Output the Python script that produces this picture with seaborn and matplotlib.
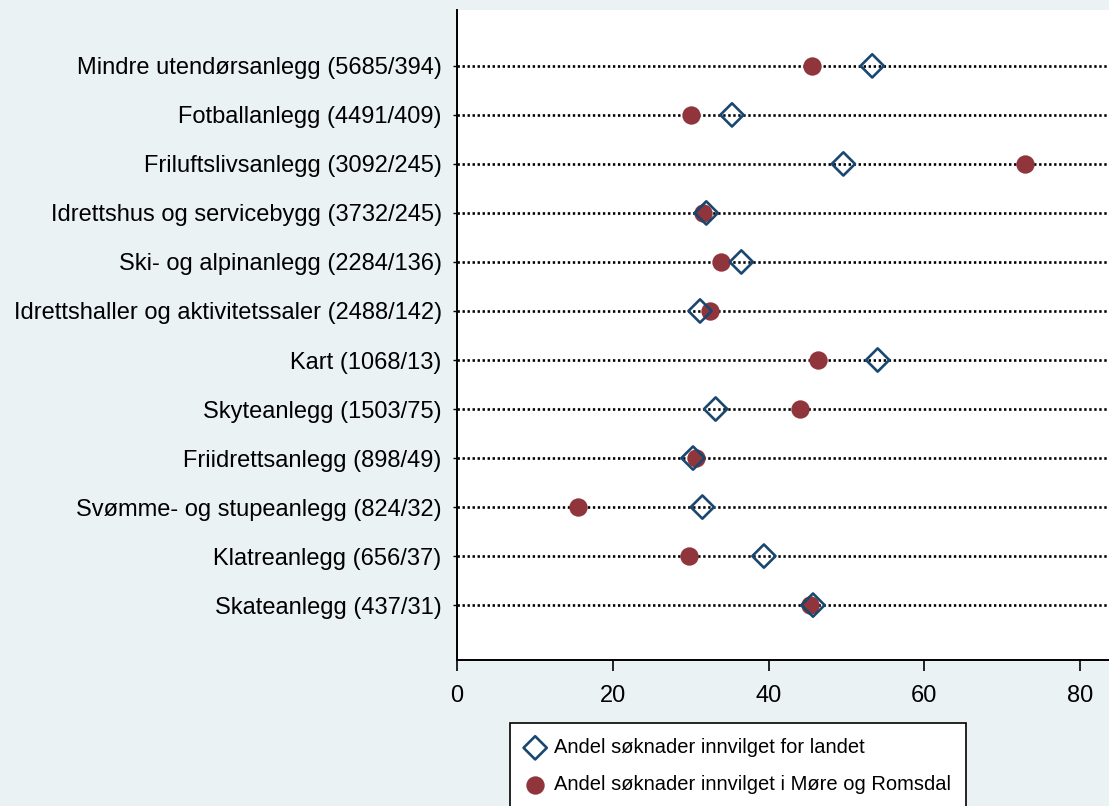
import matplotlib
matplotlib.use("Agg")
import matplotlib.pyplot as plt
import seaborn as sns
import pandas as pd

# Kategorier (antall søknader landet / Møre og Romsdal)
categories = [
    "Mindre utendørsanlegg (5685/394)",
    "Fotballanlegg (4491/409)",
    "Friluftslivsanlegg (3092/245)",
    "Idrettshus og servicebygg (3732/245)",
    "Ski- og alpinanlegg (2284/136)",
    "Idrettshaller og aktivitetssaler (2488/142)",
    "Kart (1068/13)",
    "Skyteanlegg (1503/75)",
    "Friidrettsanlegg (898/49)",
    "Svømme- og stupeanlegg (824/32)",
    "Klatreanlegg (656/37)",
    "Skateanlegg (437/31)",
]
landet = [53.3, 35.3, 49.6, 32.0, 36.5, 31.2, 54.0, 33.2, 30.3, 31.5, 39.4, 45.7]
more_romsdal = [45.6, 30.0, 72.9, 31.6, 33.9, 32.5, 46.3, 44.0, 30.7, 15.5, 29.8, 45.3]

label_landet = "Andel søknader innvilget for landet"
label_mr = "Andel søknader innvilget i Møre og Romsdal"

bg = "#eaf2f3"
navy = "#1a476f"
maroon = "#90353b"

sns.set_theme(style="white")
plt.rcParams["font.family"] = ["Liberation Sans", "DejaVu Sans"]
plt.rcParams["text.color"] = "black"

df = pd.DataFrame({"kategori": categories, "landet": landet, "mr": more_romsdal})

fig = plt.figure(figsize=(11.09, 8.06), dpi=100, facecolor=bg)
ax = fig.add_axes([457 / 1109, 146 / 806, 1 - 457 / 1109, 650 / 806])
ax.set_facecolor("white")

# stiplede linjer for hver kategori
ax.hlines(y=df["kategori"], xmin=0, xmax=100, colors="black",
          linestyles=(0, (0.9, 1.0)), linewidth=1.9, zorder=1)

sns.scatterplot(data=df, x="mr", y="kategori", marker="o", s=175,
                color=maroon, edgecolor=maroon, linewidth=0, label=label_mr,
                ax=ax, zorder=3)
sns.scatterplot(data=df, x="landet", y="kategori", marker="D", s=140,
                facecolors="none", edgecolor=navy, linewidth=1.9,
                label=label_landet, ax=ax, zorder=4)

ax.set_xlim(0, 83.7)
ax.set_ylim(len(categories) - 1 + 1.12, -1.14)
ax.set_xticks([0, 20, 40, 60, 80])
ax.set_xlabel("")
ax.set_ylabel("")

for side in ["top", "right"]:
    ax.spines[side].set_visible(False)
for side in ["left", "bottom"]:
    ax.spines[side].set_color("black")
    ax.spines[side].set_linewidth(1.4)

ax.tick_params(axis="x", length=8, width=1.2, color="black", labelsize=17,
               labelcolor="black", pad=10, bottom=True)
ax.tick_params(axis="y", length=3, width=1.0, color="black", labelsize=17,
               labelcolor="black", pad=8, left=True)

handles, labels = ax.get_legend_handles_labels()
ax.get_legend().remove()
order = [labels.index(label_landet), labels.index(label_mr)]
leg = fig.legend([handles[i] for i in order], [labels[i] for i in order],
                 loc="upper left", bbox_to_anchor=(510 / 1109, 83 / 806),
                 frameon=True, fancybox=False, framealpha=1, fontsize=14.5,
                 labelspacing=0.9, handletextpad=0.45, handlelength=1.0,
                 borderpad=0.75, borderaxespad=0, labelcolor="black")
leg.get_frame().set_edgecolor("black")
leg.get_frame().set_linewidth(1.2)
leg.get_frame().set_facecolor("white")

fig.savefig("out.png", dpi=100, facecolor=bg)
